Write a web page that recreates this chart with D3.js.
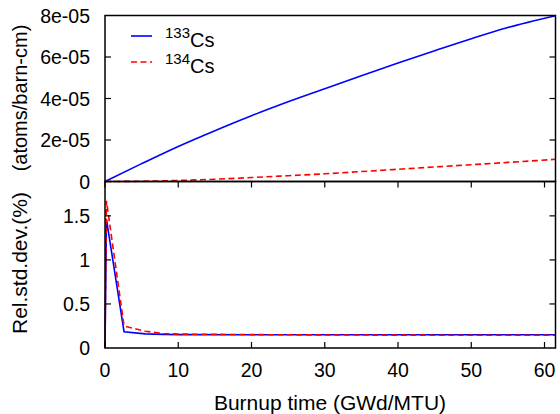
<!DOCTYPE html>
<html><head><meta charset="utf-8">
<script src="https://cdn.jsdelivr.net/npm/d3@7"></script>
<style>body{margin:0;background:#fff}svg{display:block}text{font-family:"Liberation Sans",Arial,sans-serif;fill:#000}</style>
</head><body><svg id="c" width="560" height="414"></svg>
<script>
// Top panel: number densities
const burnupTop = [0, 5, 10, 15, 20, 25, 30, 35, 40, 45, 50, 55, 61.5];
const cs133Density = [0, 0.86e-5, 1.69e-5, 2.45e-5, 3.17e-5, 3.84e-5, 4.47e-5, 5.1e-5, 5.71e-5, 6.3e-5, 6.88e-5, 7.42e-5, 7.99e-5];
const cs134Density = [0, 0.012e-5, 0.05e-5, 0.11e-5, 0.19e-5, 0.28e-5, 0.37e-5, 0.48e-5, 0.59e-5, 0.7e-5, 0.81e-5, 0.92e-5, 1.07e-5];
// Bottom panel: relative standard deviations (%)
const burnupBot = [0, 0.2, 2.6, 5.5, 8, 10, 20, 30, 40, 50, 61.5];
const cs133RelStd = [0, 1.46, 0.185, 0.16, 0.155, 0.152, 0.15, 0.15, 0.15, 0.15, 0.15];
const cs134RelStd = [0, 1.67, 0.25, 0.19, 0.165, 0.158, 0.152, 0.148, 0.146, 0.145, 0.145];
const xTicks = [0, 10, 20, 30, 40, 50, 60];
const yTopTicks = [0, 2e-5, 4e-5, 6e-5, 8e-5];
const yTopLabels = ["0", "2e-05", "4e-05", "6e-05", "8e-05"];
const yBotTicks = [0, 0.5, 1, 1.5];
const yBotLabels = ["0", "0.5", "1", "1.5"];

const svg = d3.select("#c");
const L = 105, R = 555.5, T = 15.5, M = 181.5, B = 348;
const x = d3.scaleLinear().domain([0, 61.5]).range([L, R]);
const yT = d3.scaleLinear().domain([0, 8e-5]).range([M, T]);
const yB = d3.scaleLinear().domain([0, 1.89]).range([B, M]);
const fs = 19.5, tk = 6;

// lines
function drawLine(xs, ys, ysc, color, dash, curve) {
  const line = d3.line().x((d, i) => x(xs[i])).y(d => ysc(d)).curve(curve);
  svg.append("path").datum(ys).attr("d", line).attr("fill", "none")
    .attr("stroke", color).attr("stroke-width", 1.6)
    .attr("stroke-dasharray", dash ? "6,3.5" : null);
}
drawLine(burnupTop, cs133Density, yT, "#0000ff", false, d3.curveMonotoneX);
drawLine(burnupTop, cs134Density, yT, "#ff0000", true, d3.curveMonotoneX);
drawLine(burnupBot, cs133RelStd, yB, "#0000ff", false, d3.curveLinear);
drawLine(burnupBot, cs134RelStd, yB, "#ff0000", true, d3.curveLinear);

// frames
const g = svg.append("g").attr("stroke", "#000").attr("fill", "none");
g.append("rect").attr("x", L).attr("y", T).attr("width", R - L).attr("height", M - T).attr("stroke-width", 1.5);
g.append("rect").attr("x", L).attr("y", M).attr("width", R - L).attr("height", B - M).attr("stroke-width", 1.5);

// ticks
xTicks.forEach(v => {
  g.append("line").attr("x1", x(v)).attr("x2", x(v)).attr("y1", B).attr("y2", B - tk).attr("stroke-width", 1.2);
  g.append("line").attr("x1", x(v)).attr("x2", x(v)).attr("y1", M).attr("y2", M + tk).attr("stroke-width", 1.2);
  svg.append("text").attr("x", x(v)).attr("y", 377).attr("text-anchor", "middle").attr("font-size", fs).text(v);
});
yTopTicks.forEach((v, i) => {
  if (v > 0 && v < 8e-5) {
    g.append("line").attr("x1", L).attr("x2", L + tk).attr("y1", yT(v)).attr("y2", yT(v)).attr("stroke-width", 1.2);
    g.append("line").attr("x1", R).attr("x2", R - tk).attr("y1", yT(v)).attr("y2", yT(v)).attr("stroke-width", 1.2);
  }
  svg.append("text").attr("x", 90).attr("y", yT(v) + 7).attr("text-anchor", "end").attr("font-size", fs).text(yTopLabels[i]);
});
yBotTicks.forEach((v, i) => {
  if (v > 0) {
    g.append("line").attr("x1", L).attr("x2", L + tk).attr("y1", yB(v)).attr("y2", yB(v)).attr("stroke-width", 1.2);
    g.append("line").attr("x1", R).attr("x2", R - tk).attr("y1", yB(v)).attr("y2", yB(v)).attr("stroke-width", 1.2);
  }
  svg.append("text").attr("x", 90).attr("y", yB(v) + 7).attr("text-anchor", "end").attr("font-size", fs).text(yBotLabels[i]);
});

// axis labels
svg.append("text").attr("x", 330).attr("y", 410).attr("text-anchor", "middle").attr("font-size", 21).text("Burnup time (GWd/MTU)");
svg.append("text").attr("transform", "translate(27,98) rotate(-90)").attr("text-anchor", "middle").attr("font-size", 20).text("(atoms/barn-cm)");
svg.append("text").attr("transform", "translate(27,263) rotate(-90)").attr("text-anchor", "middle").attr("font-size", 21).text("Rel.std.dev.(%)");

// legend
const leg = [{iso: "133", color: "#0000ff", dash: false, y: 36}, {iso: "134", color: "#ff0000", dash: true, y: 62}];
leg.forEach(d => {
  svg.append("line").attr("x1", 131).attr("x2", 152).attr("y1", d.y).attr("y2", d.y)
    .attr("stroke", d.color).attr("stroke-width", 1.6).attr("stroke-dasharray", d.dash ? "6,3.5" : null);
  const t = svg.append("text").attr("x", 165).attr("y", d.y + 11).attr("font-size", 20);
  t.append("tspan").attr("font-size", 15).attr("dy", -9).text(d.iso);
  t.append("tspan").attr("dy", 9).text("Cs");
});
</script></body></html>
